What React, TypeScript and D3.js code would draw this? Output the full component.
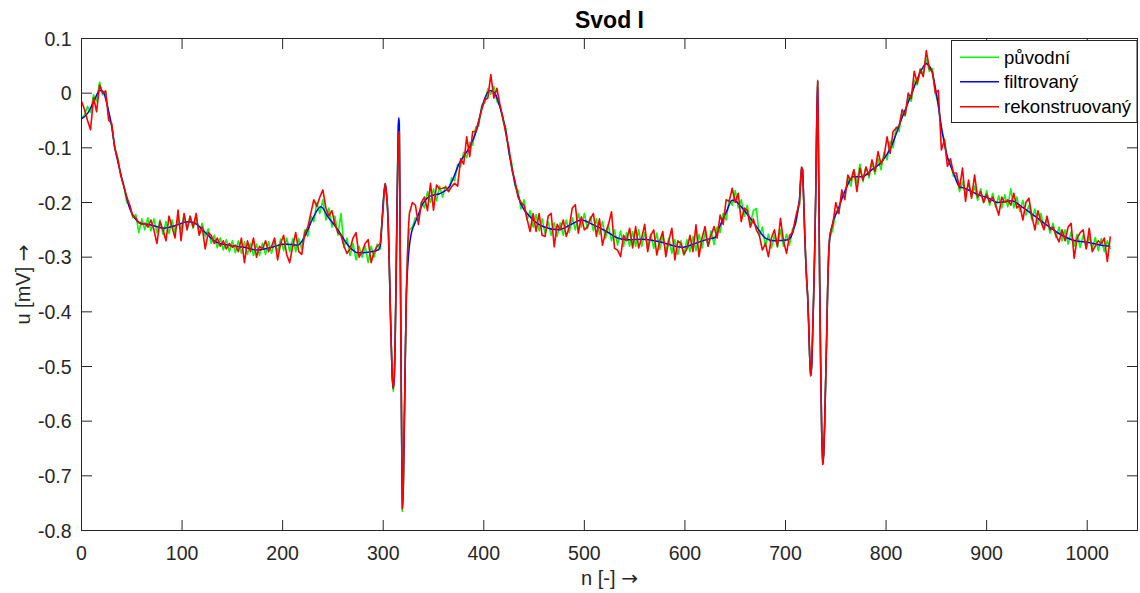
import React from "react";
import * as d3 from "d3";

// sample index axis (n) shared by the noisy series; denser around the QRS complexes
const sampleN: number[] = [
  ...d3.range(0, 301, 3),
  ...d3.range(301, 327),
  ...d3.range(329, 714, 3),
  ...d3.range(714, 745),
  ...d3.range(747, 1024, 3),
];

// původní (original) [mV]
const originalU: number[] = [
  -.046,-.04,-.024,-.035,-.003,-.015,.02,-.003,.004,-.04,
  -.06,-.1,-.118,-.15,-.168,-.2,-.205,-.228,-.222,-.255,
  -.23,-.25,-.228,-.252,-.23,-.255,-.232,-.258,-.235,-.257,
  -.232,-.255,-.228,-.25,-.222,-.248,-.225,-.247,-.228,-.255,
  -.238,-.262,-.248,-.275,-.26,-.283,-.265,-.287,-.268,-.29,
  -.27,-.292,-.27,-.293,-.272,-.295,-.275,-.297,-.276,-.297,
  -.274,-.295,-.272,-.293,-.27,-.29,-.267,-.288,-.265,-.29,
  -.266,-.29,-.266,-.285,-.25,-.262,-.225,-.235,-.2,-.22,
  -.195,-.232,-.21,-.245,-.225,-.26,-.22,-.282,-.265,-.297,
  -.275,-.305,-.28,-.3,-.28,-.31,-.28,-.3,-.276,-.285,
  -.2,
  -.178,-.165,-.18,-.2,-.24,-.31,-.39,-.46,-.52,-.545,
  -.52,-.44,-.31,-.17,-.06,-.05,-.3,-.55,-.765,-.72,
  -.6,-.48,-.37,-.31,-.27,-.25,
  -.245,-.228,-.23,-.2,-.21,-.18,-.2,-.175,-.197,-.17,
  -.19,-.17,-.18,-.155,-.16,-.13,-.135,-.108,-.118,-.09,
  -.095,-.062,-.06,-.022,-.018,.008,-.002,.012,-.015,-.022,
  -.05,-.065,-.11,-.13,-.17,-.178,-.212,-.195,-.232,-.215,
  -.245,-.222,-.252,-.23,-.257,-.235,-.26,-.237,-.262,-.237,
  -.26,-.232,-.255,-.228,-.25,-.22,-.245,-.22,-.248,-.226,
  -.252,-.23,-.258,-.235,-.265,-.242,-.27,-.25,-.278,-.252,
  -.28,-.255,-.28,-.253,-.28,-.25,-.28,-.255,-.282,-.258,
  -.284,-.256,-.286,-.26,-.29,-.265,-.293,-.268,-.295,-.27,
  -.296,-.268,-.29,-.262,-.288,-.258,-.283,-.255,-.28,-.252,
  -.277,-.245,-.255,-.22,-.232,-.195,-.205,-.178,-.21,-.195,
  -.225,-.205,-.24,-.215,-.211,-.262,-.245,-.28,-.258,-.283,
  -.26,-.282,-.25,-.28,-.258,-.278,-.248,-.24,-.21,
  -.205,-.165,-.138,-.145,-.19,-.25,-.3,-.34,-.37,-.42,
  -.48,-.515,-.5,-.44,-.37,-.29,-.19,-.06,.02,-.15,
  -.35,-.5,-.62,-.677,-.66,-.6,-.52,-.44,-.35,-.29,-.265,
  -.25,-.215,-.22,-.185,-.19,-.155,-.17,-.14,-.165,-.13,
  -.162,-.135,-.155,-.128,-.148,-.12,-.14,-.108,-.122,-.088,
  -.1,-.062,-.07,-.032,-.042,-.005,-.015,.024,.015,.045,
  .035,.062,.04,.045,0,-.02,-.07,-.085,-.12,-.125,
  -.152,-.15,-.18,-.162,-.185,-.165,-.19,-.17,-.196,-.175,
  -.2,-.178,-.205,-.183,-.208,-.188,-.21,-.186,-.208,-.175,
  -.21,-.19,-.216,-.196,-.223,-.205,-.232,-.212,-.24,-.22,
  -.248,-.23,-.256,-.238,-.264,-.245,-.27,-.25,-.276,-.254,
  -.28,-.258,-.282,-.26,-.284,-.262,-.285,-.264,-.288,-.266,
  -.29,-.27,-.285,
];

// rekonstruovaný (reconstructed) [mV]
const reconstructedU: number[] = [
  -.015,-.03,-.05,-.067,-.008,-.034,.015,0,.004,-.05,
  -.055,-.1,-.12,-.15,-.17,-.19,-.205,-.225,-.228,-.237,
  -.24,-.238,-.245,-.232,-.25,-.275,-.235,-.25,-.27,-.225,
  -.245,-.265,-.214,-.27,-.22,-.25,-.225,-.245,-.22,-.26,
  -.245,-.285,-.255,-.26,-.275,-.265,-.28,-.27,-.285,-.275,
  -.282,-.278,-.29,-.265,-.31,-.27,-.29,-.265,-.3,-.28,
  -.285,-.27,-.29,-.28,-.265,-.305,-.275,-.26,-.295,-.31,
  -.28,-.255,-.29,-.295,-.256,-.245,-.22,-.195,-.207,-.19,
  -.177,-.21,-.225,-.215,-.24,-.255,-.26,-.28,-.293,-.285,
  -.265,-.255,-.3,-.29,-.275,-.268,-.31,-.29,-.28,-.275,
  -.21,
  -.18,-.166,-.18,-.2,-.24,-.31,-.39,-.46,-.52,-.54,
  -.52,-.44,-.32,-.19,-.085,-.07,-.3,-.55,-.76,-.72,
  -.6,-.48,-.37,-.3,-.25,-.22,
  -.2,-.205,-.24,-.2,-.19,-.215,-.165,-.214,-.168,-.175,
  -.174,-.172,-.18,-.171,-.165,-.17,-.12,-.13,-.08,-.116,
  -.07,-.07,-.05,-.03,-.012,-.009,.034,-.009,.009,-.02,
  -.045,-.075,-.1,-.14,-.16,-.19,-.2,-.205,-.23,-.253,
  -.22,-.253,-.22,-.26,-.262,-.225,-.22,-.281,-.24,-.25,
  -.232,-.262,-.245,-.21,-.204,-.256,-.226,-.25,-.245,-.23,
  -.22,-.262,-.23,-.278,-.255,-.24,-.217,-.284,-.287,-.299,
  -.26,-.27,-.247,-.283,-.244,-.283,-.265,-.24,-.29,-.26,
  -.25,-.296,-.27,-.253,-.299,-.27,-.247,-.305,-.27,-.275,
  -.295,-.285,-.26,-.29,-.241,-.299,-.265,-.244,-.28,-.26,
  -.244,-.265,-.223,-.24,-.195,-.198,-.174,-.2,-.183,-.235,
  -.21,-.215,-.245,-.23,-.25,-.26,-.287,-.275,-.299,-.265,
  -.25,-.28,-.229,-.27,-.293,-.26,-.255,-.228,-.205,
  -.2,-.16,-.135,-.14,-.19,-.25,-.3,-.34,-.37,-.42,
  -.48,-.517,-.5,-.44,-.37,-.29,-.19,-.06,.022,-.15,
  -.35,-.5,-.62,-.679,-.66,-.6,-.52,-.44,-.35,-.29,-.26,
  -.24,-.2,-.22,-.177,-.195,-.15,-.16,-.14,-.18,-.137,
  -.159,-.135,-.15,-.122,-.143,-.107,-.13,-.116,-.08,-.11,
  -.07,-.064,-.06,-.03,-.04,0,-.01,.04,.018,.043,
  .03,.078,.045,.04,0,.005,-.104,-.085,-.134,-.12,
  -.146,-.146,-.174,-.137,-.198,-.159,-.192,-.15,-.19,-.18,
  -.2,-.185,-.2,-.19,-.205,-.223,-.19,-.2,-.195,-.205,
  -.183,-.21,-.205,-.232,-.2,-.192,-.225,-.25,-.215,-.235,
  -.25,-.225,-.25,-.245,-.26,-.272,-.25,-.27,-.245,-.238,
  -.302,-.265,-.255,-.25,-.285,-.247,-.29,-.28,-.27,-.275,
  -.265,-.308,-.262,
];

// filtrovaný (filtered) — sample index and value [mV]
const filteredN: number[] = [
  0,6,13,18,21,26,30,33,38,43,48,53,59,69,82,92,106,112,122,132,145,162,175,189,202,215,222,230,238,245,255,265,275,285,295,
  297,298,299,300,301,302,303,304,305,306,307,308,309,310,311,312,313,314,315,315.5,316,317,318,319,320,321,322,323,324,325,326,
  328,331,335,338,341,346,351,356,366,376,386,393,399,406,411,416,421,426,431,436,446,459,474,486,497,509,522,533,542,558,575,597,610,623,630,635,641,647,650,656,670,680,689,703,709,711,713,
  714,715,716,717,718,719,720,721,722,723,724,725,726,727,728,729,730,731,732,733,734,735,736,737,738,739,740,741,742,743,744,
  746,752,761,767,776,786,796,805,815,825,832,840,845,850,855,860,867,873,878,892,902,911,925,935,948,961,974,988,1001,1014,1023,
];
const filteredU: number[] = [
  -.047,-.037,-.012,.005,.004,-.025,-.06,-.098,-.14,-.177,-.211,-.229,-.238,-.241,-.247,-.243,-.235,-.237,-.253,-.27,-.278,-.282,-.287,-.282,-.276,-.278,-.262,-.229,-.208,-.226,-.25,-.278,-.292,-.291,-.287,
  -.28,-.26,-.23,-.2,-.178,-.166,-.178,-.2,-.24,-.31,-.39,-.46,-.52,-.54,-.52,-.44,-.31,-.17,-.06,-.045,-.06,-.3,-.55,-.76,-.72,-.6,-.48,-.37,-.33,-.3,-.28,
  -.256,-.24,-.222,-.207,-.198,-.189,-.186,-.184,-.17,-.127,-.098,-.067,-.02,.005,0,-.025,-.061,-.118,-.165,-.198,-.226,-.244,-.25,-.241,-.232,-.241,-.253,-.265,-.268,-.267,-.272,-.282,-.275,-.267,-.264,-.242,-.218,-.196,-.197,-.208,-.241,-.265,-.27,-.268,-.244,-.228,-.205,
  -.19,-.16,-.137,-.14,-.19,-.25,-.3,-.34,-.37,-.42,-.48,-.517,-.5,-.44,-.37,-.29,-.19,-.06,.024,-.15,-.35,-.5,-.62,-.679,-.66,-.6,-.52,-.44,-.35,-.29,-.265,
  -.244,-.214,-.171,-.153,-.153,-.14,-.125,-.098,-.049,-.003,.03,.054,.043,0,-.061,-.11,-.146,-.171,-.174,-.186,-.192,-.2,-.197,-.208,-.225,-.243,-.259,-.27,-.273,-.278,-.28,
];

const xTicks: number[] = [0, 100, 200, 300, 400, 500, 600, 700, 800, 900, 1000];
const yTicks: number[] = [-0.8, -0.7, -0.6, -0.5, -0.4, -0.3, -0.2, -0.1, 0, 0.1];
const legendLabels: string[] = ["původní", "filtrovaný", "rekonstruovaný"];
const seriesColors: string[] = ["#00ff00", "#0000ff", "#ff0000"];

const W = 1140;
const H = 593;
const L = 81.5, R = 1137.5, T = 38.5, B = 530.5;
const AX = "#262626";
const FONT = "'Liberation Sans', Arial, Helvetica, sans-serif";
const ARROW_FONT = "'DejaVu Sans', sans-serif";

const fmtTick = (t: number) => String(Math.round(t * 10) / 10);

export default function App() {
  const x = d3.scaleLinear().domain([0, 1050]).range([L, R]);
  const y = d3.scaleLinear().domain([-0.8, 0.1]).range([B, T]);

  const nLen = Math.min(sampleN.length, originalU.length, reconstructedU.length);
  const origPts: [number, number][] = [];
  const recPts: [number, number][] = [];
  for (let i = 0; i < nLen; i++) {
    origPts.push([sampleN[i], originalU[i]]);
    recPts.push([sampleN[i], reconstructedU[i]]);
  }
  const filtPts: [number, number][] = filteredN.map((n, i) => [n, filteredU[i]]);

  const line = d3.line<[number, number]>().x((d) => x(d[0])).y((d) => y(d[1]));
  const smooth = d3
    .line<[number, number]>()
    .x((d) => x(d[0]))
    .y((d) => y(d[1]))
    .curve(d3.curveMonotoneX);

  const tickLen = 10.5;
  const legendRows = [57.3, 81.7, 106.7];

  return (
    <svg
      width={W}
      height={H}
      style={{ position: "absolute", left: 0, top: 0, background: "#fff" }}
      fontFamily={FONT}
    >
      <defs>
        <clipPath id="plotClip">
          <rect x={L} y={T} width={R - L} height={B - T} />
        </clipPath>
      </defs>
      <rect x={0} y={0} width={W} height={H} fill="#fff" />

      <g clipPath="url(#plotClip)" fill="none" strokeLinejoin="round">
        <path d={line(origPts) || ""} stroke={seriesColors[0]} strokeWidth={1.6} />
        <path d={smooth(filtPts) || ""} stroke={seriesColors[1]} strokeWidth={1.5} />
        <path d={line(recPts) || ""} stroke={seriesColors[2]} strokeWidth={1.6} />
      </g>

      {/* axes box */}
      <rect x={L} y={T} width={R - L} height={B - T} fill="none" stroke={AX} strokeWidth={1} />

      {xTicks.map((t) => (
        <g key={"x" + t}>
          <line x1={x(t)} x2={x(t)} y1={B} y2={B - tickLen} stroke={AX} strokeWidth={1} />
          <line x1={x(t)} x2={x(t)} y1={T} y2={T + tickLen} stroke={AX} strokeWidth={1} />
          <text x={x(t)} y={B + 29.5} textAnchor="middle" fontSize={19.5} fill={AX}>
            {fmtTick(t)}
          </text>
        </g>
      ))}
      {yTicks.map((t) => (
        <g key={"y" + t}>
          <line x1={L} x2={L + tickLen} y1={y(t)} y2={y(t)} stroke={AX} strokeWidth={1} />
          <line x1={R} x2={R - tickLen} y1={y(t)} y2={y(t)} stroke={AX} strokeWidth={1} />
          <text x={L - 10} y={y(t) + 7} textAnchor="end" fontSize={19.5} fill={AX}>
            {fmtTick(t)}
          </text>
        </g>
      ))}

      <text x={(L + R) / 2} y={28} textAnchor="middle" fontSize={23} fontWeight="bold" fill="#000">
        Svod I
      </text>
      <text x={(L + R) / 2} y={585} textAnchor="middle" fontSize={20} fill={AX}>
        n [-] <tspan fontFamily={ARROW_FONT} fontSize={20}>→</tspan>
      </text>
      <text
        transform={`translate(30, ${(T + B) / 2}) rotate(-90)`}
        textAnchor="middle"
        fontSize={20}
        fill={AX}
      >
        u [mV] <tspan fontFamily={ARROW_FONT} fontSize={20}>→</tspan>
      </text>

      {/* legend */}
      <rect x={951.5} y={40.5} width={185.5} height={82} fill="#fff" stroke={AX} strokeWidth={1} />
      {legendLabels.map((lab, i) => (
        <g key={lab}>
          <line x1={960} x2={999} y1={legendRows[i]} y2={legendRows[i]} stroke={seriesColors[i]} strokeWidth={1.6} />
          <text x={1004} y={legendRows[i] + 6.5} fontSize={18.6} fill="#000">
            {lab}
          </text>
        </g>
      ))}
    </svg>
  );
}
